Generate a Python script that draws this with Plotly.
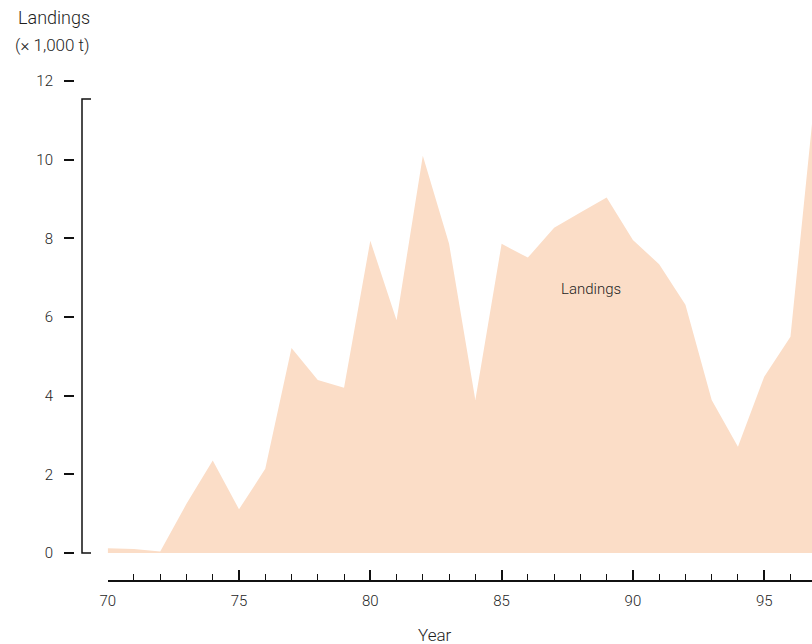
import plotly.graph_objects as go

years = list(range(70, 98))
landings = [0.12, 0.10, 0.04, 1.25, 2.35, 1.11, 2.14, 5.21, 4.40, 4.20,
            7.94, 5.92, 10.10, 7.86, 3.89, 7.86, 7.51, 8.27, 8.66, 9.04,
            7.96, 7.34, 6.31, 3.89, 2.70, 4.48, 5.50, 12.10]

y_ticks = [0, 2, 4, 6, 8, 10, 12]
x_major = [70, 75, 80, 85, 90, 95]
x_minor = [y for y in years if y not in x_major]

FILL = "rgb(251,221,199)"
TXT = "#1e1e1e"
AX = "#111111"
FONT = "Roboto"
WT = 300

fig = go.Figure()
fig.add_trace(go.Scatter(x=years, y=landings, mode="none", fill="tozeroy",
                         fillcolor=FILL, hoverinfo="skip", showlegend=False))

W, H = 812, 644
L, R, T, B = 74, 0, 75, 64
pw = W - L - R
ph = H - T - B

fig.update_layout(
    width=W, height=H, autosize=False,
    margin=dict(l=L, r=R, t=T, b=B, pad=0),
    plot_bgcolor="white", paper_bgcolor="white",
    font=dict(family=FONT, color=TXT, size=15, weight=WT),
    xaxis=dict(domain=[(107.7 - L) / pw, 1], range=[70, 96.82],
               showgrid=False, zeroline=False,
               showline=True, linecolor=AX, linewidth=1.5,
               ticks="inside", ticklen=10, tickwidth=1.5, tickcolor=AX,
               tickvals=x_major, ticktext=[str(v) for v in x_major],
               ticklabelstandoff=6,
               tickfont=dict(family=FONT, size=15, color=TXT, weight=WT),
               minor=dict(tickvals=x_minor, ticks="inside", ticklen=6,
                          tickwidth=1.2, tickcolor=AX, showgrid=False)),
    yaxis=dict(anchor="free", position=0, range=[-0.686, 12.153],
               showgrid=False, zeroline=False, showline=False,
               ticks="outside", ticklen=10, tickwidth=1.5, tickcolor=AX,
               tickvals=y_ticks, ticktext=[str(v) for v in y_ticks],
               ticklabelstandoff=8,
               tickfont=dict(family=FONT, size=15, color=TXT, weight=WT)),
)

# y-axis bracket line
bx0 = (82 - L) / pw
bx1 = (91 - L) / pw
fig.add_shape(type="path",
              path=f"M {bx1},11.54 L {bx0},11.54 L {bx0},0 L {bx1},0",
              xref="paper", yref="y", line=dict(color=AX, width=1.5))

# titles
fig.add_annotation(text="Landings", xref="paper", yref="paper",
                   x=(92 - L) / pw, y=(580 - 18) / ph, xanchor="right", yanchor="middle",
                   showarrow=False, font=dict(family=FONT, size=18, color=TXT, weight=WT))
fig.add_annotation(text="(× 1,000 t)", xref="paper", yref="paper",
                   x=(92 - L) / pw, y=(580 - 45) / ph, xanchor="right", yanchor="middle",
                   showarrow=False, font=dict(family=FONT, size=17, color=TXT, weight=WT))
fig.add_annotation(text="Year", xref="paper", yref="paper",
                   x=(435 - L) / pw, y=(580 - 635) / ph, xanchor="center", yanchor="middle",
                   showarrow=False, font=dict(family=FONT, size=17, color=TXT, weight=WT))
fig.add_annotation(text="Landings", xref="x", yref="y", x=88.42, y=6.7,
                   xanchor="center", yanchor="middle", showarrow=False,
                   font=dict(family=FONT, size=15, color=TXT, weight=WT))

fig.write_html("out.html", config={"displayModeBar": False},
               post_script="document.body.style.margin='0';")
